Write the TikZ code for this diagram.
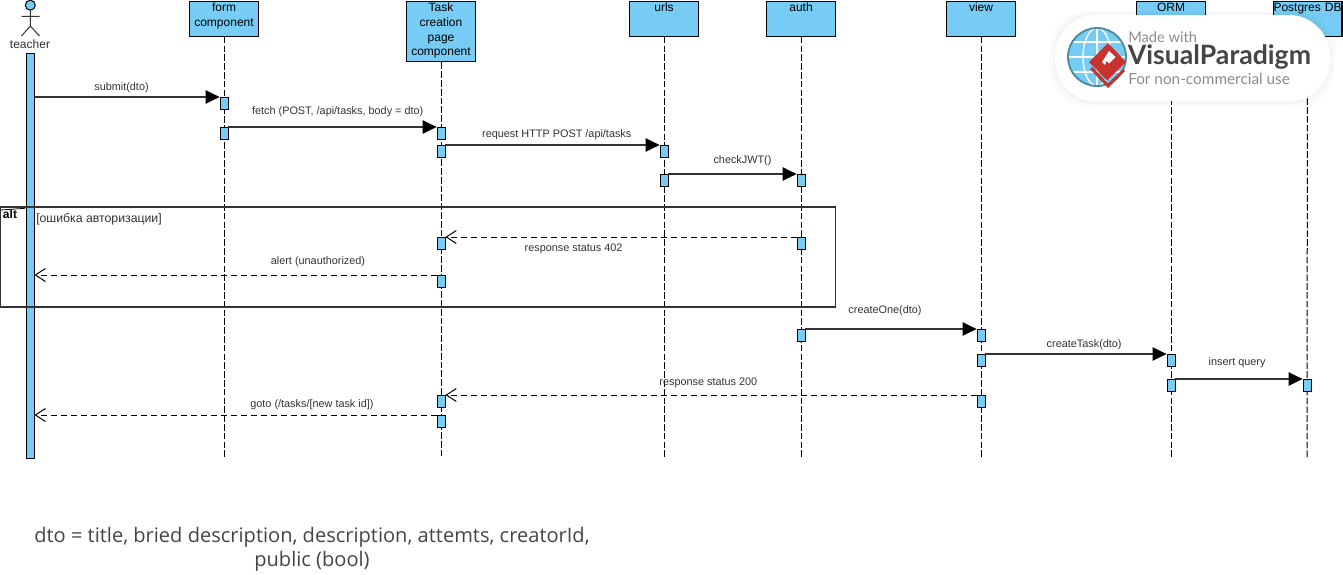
\documentclass[tikz,border=0pt]{standalone}
\usepackage{fontspec}
\setmainfont{Liberation Sans}
\newfontfamily\notefont{Open Sans}
\newfontfamily\markfont{Lato}
\usetikzlibrary{arrows.meta}
\definecolor{lifeblue}{HTML}{76CCF5}
\definecolor{msggray}{HTML}{333333}
\definecolor{markred}{HTML}{C8322F}
\definecolor{markteal}{HTML}{4C8C9E}
\definecolor{markgray}{HTML}{8C8C8C}
\definecolor{markdark}{HTML}{454545}

\begin{document}
\begin{tikzpicture}[x=0.75pt, y=-0.75pt,
  life node/.style={draw, fill=lifeblue, line width=0.9pt, anchor=north, inner sep=0pt, text width=51.6pt,
    align=center, text height=8pt, text depth=#1, font=\fontsize{9}{11}\selectfont},
  act node/.style={draw, fill=lifeblue, line width=0.6pt, anchor=north, inner sep=0pt, minimum width=6pt, minimum height=9pt},
  lifeline/.style={line width=0.75pt, dash pattern=on 5pt off 1.6pt},
  call/.style={line width=1.1pt, draw=msggray, -{Triangle[length=10.5pt,width=10pt,black]}},
  back/.style={line width=0.75pt, draw=black, dash pattern=on 4.5pt off 3pt, -{Straight Barb[length=7.5pt,width=9.75pt]}},
  msg label/.style={font=\fontsize{8.15}{10}\selectfont, text=msggray, inner sep=0pt, text height=6.5pt, text depth=1.5pt}]

\useasboundingbox (0,0) rectangle (1343,575);

\node[life node=18.25pt] (form) at (224,0.6) {form\\component};
\node[life node=37.5pt] (task) at (441,0.6) {Task\\creation\\page\\component};
\node[life node=18.25pt] (urls) at (664,0.6) {urls};
\node[life node=18.25pt] (auth) at (801,0.6) {auth};
\node[life node=18.25pt] (view) at (981,0.6) {view};
\node[life node=18.25pt] (orm) at (1171,0.6) {ORM};
\node[life node=18.25pt] (postgres) at (1307.5,0.6) {Postgres DB};

\coordinate (formend) at (224,458);
\coordinate (taskend) at (441,458);
\coordinate (urlsend) at (664,458);
\coordinate (authend) at (801,458);
\coordinate (viewend) at (981,458);
\coordinate (ormend) at (1171,458);
\coordinate (postgresend) at (1307,458);

\draw[lifeline] (form) -- (formend);
\draw[lifeline] (task) -- (taskend);
\draw[lifeline] (urls) -- (urlsend);
\draw[lifeline] (auth) -- (authend);
\draw[lifeline] (view) -- (viewend);
\draw[lifeline] (orm) -- (ormend);
\draw[lifeline] (postgres) -- (postgresend);

% actor
\draw[line width=0.75pt, fill=lifeblue] (30.3,5.2) circle (5);
\draw[line width=0.75pt, draw=msggray] (30.3,10.2) -- (30.3,26) (21.5,16.3) -- (39.5,16.3) (21.5,36) -- (30.3,26) -- (39.5,36);
\node[font=\fontsize{9}{11}\selectfont, text=msggray, inner sep=0pt] (teacher) at (30,44) {teacher};
\node[act node, minimum height=303.75pt] (teacherbar) at (30.5,53) {};

\node[act node] (form1) at (224,97) {};
\node[act node] (form2) at (224,127) {};
\node[act node] (task1) at (441,127) {};
\node[act node] (task2) at (441,145) {};
\node[act node] (task3) at (441,237) {};
\node[act node] (task4) at (441,275) {};
\node[act node] (task5) at (441,395) {};
\node[act node] (task6) at (441,415) {};
\node[act node] (urls1) at (664,145) {};
\node[act node] (urls2) at (664,174) {};
\node[act node] (auth1) at (801,174) {};
\node[act node] (auth2) at (801,237) {};
\node[act node] (auth3) at (801,329) {};
\node[act node] (view1) at (981,329) {};
\node[act node] (view2) at (981,354) {};
\node[act node] (view3) at (981,395) {};
\node[act node] (orm1) at (1171,354) {};
\node[act node] (orm2) at (1171,379) {};
\node[act node] (postgres1) at (1307,379) {};

\coordinate (teacher1) at (34.5,97);
\coordinate (teacher2) at (34.5,275);
\coordinate (teacher3) at (34.5,415);

% alt frame
\node[draw=msggray, line width=1.4pt, anchor=north west, inner sep=0pt, minimum width=626.25pt, minimum height=74.8pt] (altframe) at (-0.5,206) {};
\node[font=\fontsize{9}{11}\selectfont\bfseries, inner sep=0pt] (alttag) at (10,214.5) {alt};
\draw[line width=0.6pt] (1,210) -- (25,208.3);
\node[font=\fontsize{9.2}{11}\selectfont, text=msggray, inner sep=0pt, anchor=west] (guard) at (36,219.5) {[ошибка авторизации]};

\draw[call] (teacher1) -- node [msg label, above=2.75pt, pos=0.47] {submit(dto)} (form1.north west);
\draw[call] (form2.north east) -- node [msg label, above=7.25pt, pos=0.525] {fetch (POST, /api/tasks, body = dto)} (task1.north west);
\draw[call] (task2.north east) -- node [msg label, above=3.5pt, pos=0.52] {request HTTP POST /api/tasks} (urls1.north west);
\draw[call] (urls2.north east) -- node [msg label, above=5.75pt, pos=0.578] {checkJWT()} (auth1.north west);
\draw[call] (auth3.north east) -- node [msg label, above=9.5pt, pos=0.465] {createOne(dto)} (view1.north west);
\draw[call] (view2.north east) -- node [msg label, above=2.75pt, pos=0.545] {createTask(dto)} (orm1.north west);
\draw[call] (orm2.north east) -- node [msg label, above=8pt, pos=0.485] {insert query} (postgres1.north west);

\draw[back] (auth2.north west) -- node [msg label, below=4.25pt, pos=0.635] {response status 402} (task3.north east);
\draw[back] (task4.north west) -- node [msg label, above=6pt, pos=0.295] {alert (unauthorized)} (teacher2);
\draw[back] (view3.north west) -- node [msg label, above=5pt, pos=0.505] {response status 200} (task5.north east);
\draw[back] (task6.north west) -- node [msg label, above=3.5pt, pos=0.31] {goto (/tasks/[new task id])} (teacher3);

% note
\node[font=\notefont\fontsize{15.05}{18}\selectfont, text=markdark, align=center, inner sep=0pt] (note) at (312,549.5) {dto = title, bried description, description, attemts, creatorId,\\public (bool)};

% watermark
\fill[black, opacity=0.02, rounded corners=30pt] (1050,11) rectangle (1335,106);
\fill[black, opacity=0.02, rounded corners=30pt] (1053,13) rectangle (1332,104);
\fill[white, rounded corners=31pt] (1055,15) rectangle (1330,101);
\begin{scope}
\clip (1097,57) circle (29);
\fill[lifeblue] (1097,57) circle (29);
\draw[white, line width=1pt] (1097,28) -- (1097,86) (1068,57) -- (1126,57) (1070,42) -- (1124,42) (1070,72) -- (1124,72);
\draw[white, line width=1pt] (1097,57) ellipse (14 and 29);
\end{scope}
\draw[markteal, line width=1.4pt] (1097,57) circle (29);
\fill[markred] (1090,69) -- (1108,88) -- (1125,71) -- (1123,69) -- (1108,83.5) -- (1092.5,67) -- cycle;
\fill[markred] (1108,43) -- (1126,62) -- (1107,80.5) -- (1089,62) -- cycle;
\fill[white] (1102,62) -- (1109,51) -- (1115.5,57) -- (1109,63.5) -- (1106.5,61) -- (1105,65) -- cycle;
\node[font=\markfont\fontsize{11}{13}\selectfont, text=markgray, anchor=west, inner sep=0pt] (madewith) at (1128,37) {Made with};
\node[font=\markfont\bfseries\fontsize{20}{22}\selectfont, text=markdark, anchor=west, inner sep=0pt] (vpname) at (1127.5,57) {VisualParadigm};
\node[font=\markfont\fontsize{11.5}{13}\selectfont, text=markgray, anchor=west, inner sep=0pt] (noncommercial) at (1128,78.5) {For non-commercial use};
\end{tikzpicture}
\end{document}
